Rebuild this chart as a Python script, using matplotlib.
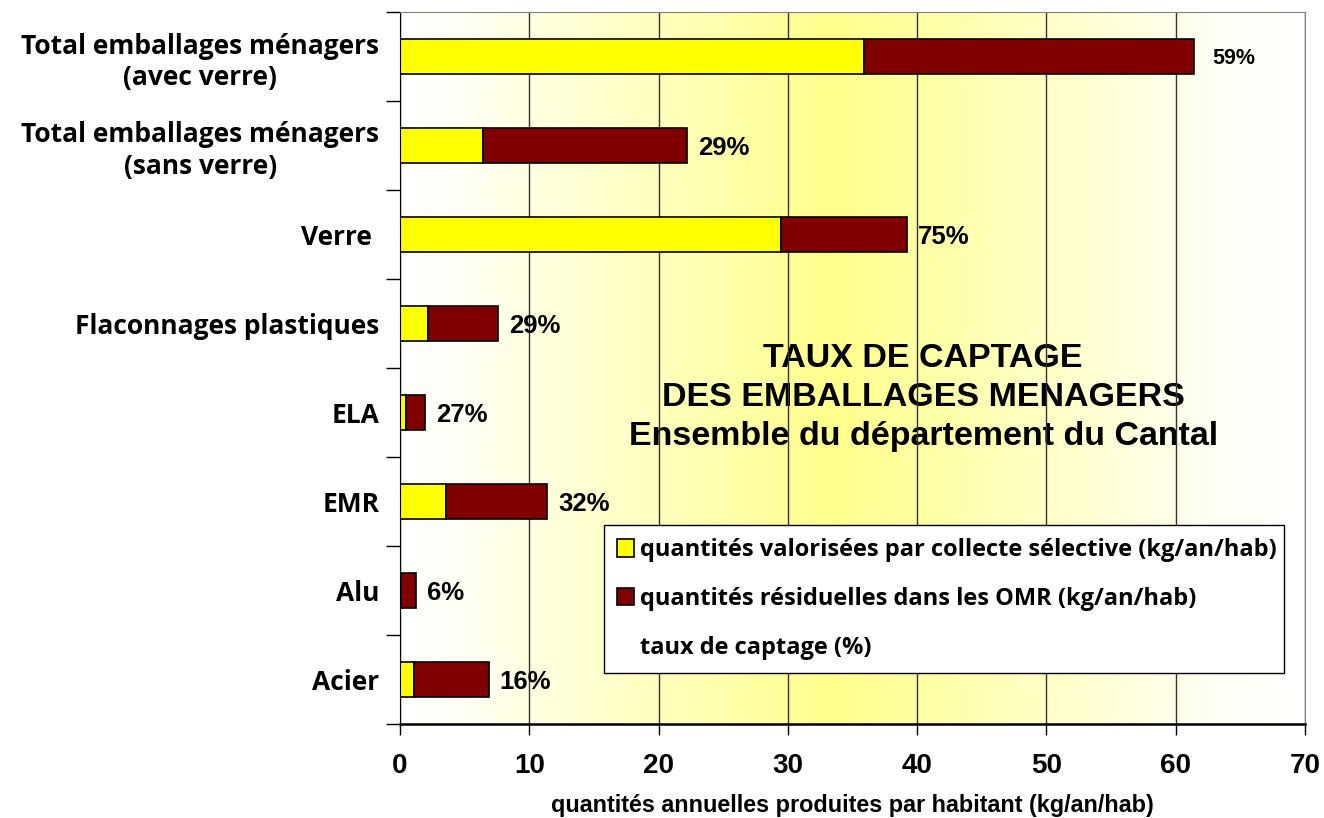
import numpy as np
import matplotlib.pyplot as plt
from matplotlib.patches import Patch
from matplotlib.colors import LinearSegmentedColormap

categories = ["Total emballages ménagers\n(avec verre)",
              "Total emballages ménagers\n(sans verre)",
              "Verre ",
              "Flaconnages plastiques",
              "ELA",
              "EMR",
              "Alu",
              "Acier"]
collecte = [35.9, 6.4, 29.5, 2.2, 0.45, 3.55, 0.07, 1.05]
residuel = [25.5, 15.8, 9.7, 5.35, 1.5, 7.85, 1.13, 5.8]
taux = ["59%", "29%", "75%", "29%", "27%", "32%", "6%", "16%"]

YELLOW = "#FFFF00"
DARKRED = "#800000"
LABEL_FONT = "Open Sans"
ARIAL = "Liberation Sans"

fig = plt.figure(figsize=(13.24, 8.18), dpi=100)
ax = fig.add_axes([400 / 1324, 94 / 818, 905 / 1324, 712 / 818])

# background gradient white -> yellow -> white
cmap = LinearSegmentedColormap.from_list(
    "grad", [(0, "#FFFFFF"), (0.07, "#FFFFF4"), (0.48, "#FFFF8C"), (0.9, "#FFFFF4"), (1, "#FFFFFF")])
grad = np.linspace(0, 1, 512).reshape(1, -1)
ax.imshow(grad, cmap=cmap, aspect="auto", extent=[0, 70, 7.5, -0.5], zorder=0.1)

y = np.arange(len(categories))
ax.barh(y, collecte, height=0.4, color=YELLOW, edgecolor="black", linewidth=1.2,
        label="quantités valorisées par collecte sélective (kg/an/hab)", zorder=2)
ax.barh(y, residuel, left=collecte, height=0.4, color=DARKRED, edgecolor="black", linewidth=1.2,
        label="quantités résiduelles dans les OMR (kg/an/hab)", zorder=2)

totals = [c + r for c, r in zip(collecte, residuel)]
for i, (t, lab) in enumerate(zip(totals, taux)):
    size = 15.5 if i == 0 else 18.5
    dx = 13 if i == 0 else 8
    ax.annotate(lab, (t, i), xytext=(dx, -1.5), textcoords="offset points",
                ha="left", va="center", fontsize=size, fontweight="bold",
                family=ARIAL, zorder=3)

ax.set_xlim(0, 70)
ax.set_ylim(7.5, -0.5)
ax.set_xticks(range(0, 71, 10))
ax.set_yticks(y)
ax.set_yticklabels(categories)
ax.set_yticks(np.arange(-0.5, 8, 1), minor=True)
ax.tick_params(axis="y", which="major", length=0, pad=15)
ax.tick_params(axis="y", which="minor", length=10, width=1, direction="out")
ax.tick_params(axis="x", length=8, width=1, direction="out", pad=13)
for t in ax.get_yticklabels():
    t.set_fontfamily(LABEL_FONT)
    t.set_fontweight("bold")
    t.set_fontsize(19)
    t.set_multialignment("center")
for t in ax.get_xticklabels():
    t.set_fontfamily(ARIAL)
    t.set_fontweight("bold")
    t.set_fontsize(20)

ax.set_axisbelow(True)
ax.grid(axis="x", color="#333333", linewidth=1)
ax.grid(axis="y", visible=False)

ax.spines["top"].set_color("#808080")
ax.spines["right"].set_color("#808080")
ax.spines["bottom"].set_linewidth(1.8)

ax.set_xlabel("quantités annuelles produites par habitant (kg/an/hab)",
              fontsize=16.8, fontweight="bold", family=ARIAL, labelpad=11)

ax.text(0.578, 0.458, "TAUX DE CAPTAGE\nDES EMBALLAGES MENAGERS\nEnsemble du département du Cantal",
        transform=ax.transAxes, ha="center", va="center", fontsize=24.5,
        fontweight="bold", family=ARIAL, linespacing=1.33, zorder=0.3)

handles, labels = ax.get_legend_handles_labels()
handles.append(Patch(facecolor="none", edgecolor="none"))
labels.append("taux de captage (%)")
leg = ax.legend(handles, labels, loc="lower left", bbox_to_anchor=(0.225, 0.072, 0.752, 0.205),
                mode="expand", prop={"family": LABEL_FONT, "weight": "bold", "size": 17},
                frameon=True, fancybox=False, edgecolor="black", framealpha=1,
                handlelength=0.75, handleheight=0.75, handletextpad=0.25, labelspacing=1.05,
                borderpad=0.55, borderaxespad=0)
leg.get_frame().set_linewidth(1)

fig.savefig("out.png", dpi=100)
